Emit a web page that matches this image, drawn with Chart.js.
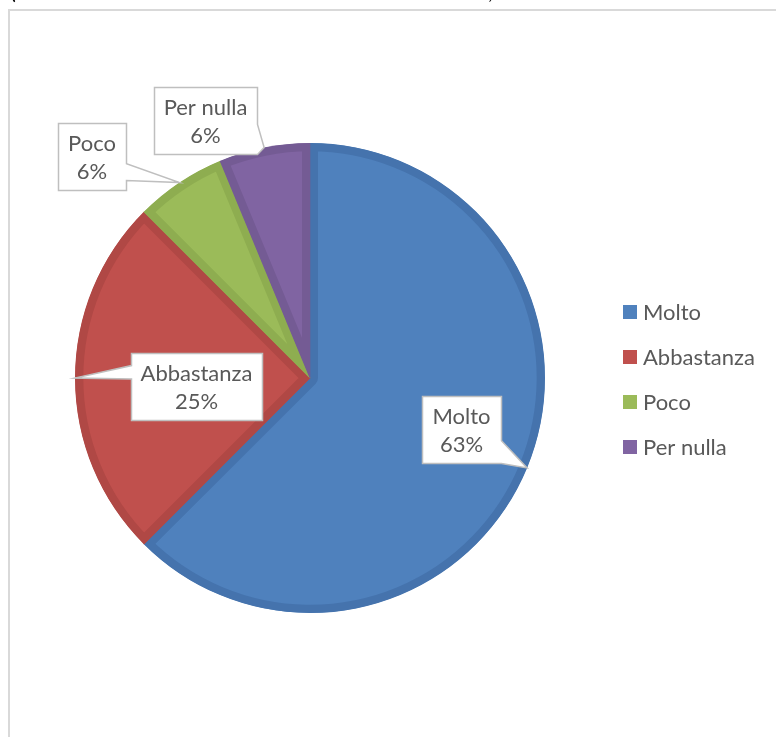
<!DOCTYPE html>
<html>
<head>
<meta charset="utf-8">
<script src="https://cdn.jsdelivr.net/npm/chart.js@4.4.1/dist/chart.umd.min.js"></script>
<style>
  html, body { margin: 0; padding: 0; background: #ffffff; overflow: hidden; }
  #wrap { position: relative; width: 776px; height: 737px; }
</style>
</head>
<body>
<div id="wrap"><canvas id="c" width="776" height="737"></canvas></div>
<script>
// Survey answers and how many respondents chose each one
const categories = ['Molto', 'Abbastanza', 'Poco', 'Per nulla'];
const counts = [10, 4, 1, 1];

// Slice fills and their darker rims
const fillColors = ['#4f81bd', '#c0504d', '#9bbb59', '#8064a2'];
const rimColors  = ['#4573ad', '#b04845', '#8ead50', '#745b94'];

const FONT = 'Lato, "Open Sans", sans-serif';
const FONT_SIZE = 22;
const TEXT_COLOR = '#595959';

const total = counts.reduce((a, b) => a + b, 0);
const percentText = counts.map(v => Math.round(v / total * 100) + '%');

// Callout placement: box centre offset from the pie centre, and which side of
// the box the pointer leaves from (as a fraction range along that side).
const calloutLayout = [
  { dx: 151.5, dy: 51.5,    side: 'right', f0: 0.66, f1: 1.0 },
  { dx: -113.5, dy: 8.5,    side: 'left',  f0: 0.18, f1: 0.38 },
  { dx: -218, dy: -221.5,   side: 'right', f0: 0.60, f1: 0.85 },
  { dx: -104.5, dy: -257.5, side: 'right', f0: 0.55, f1: 1.0 }
];

function drawCallout(ctx, l, t, r, b, tip, side, f0, f1) {
  ctx.beginPath();
  ctx.moveTo(l, t);
  ctx.lineTo(r, t);
  if (side === 'right') {
    ctx.lineTo(r, t + (b - t) * f0);
    ctx.lineTo(tip.x, tip.y);
    ctx.lineTo(r, t + (b - t) * f1);
  }
  ctx.lineTo(r, b);
  ctx.lineTo(l, b);
  if (side === 'left') {
    ctx.lineTo(l, t + (b - t) * f1);
    ctx.lineTo(tip.x, tip.y);
    ctx.lineTo(l, t + (b - t) * f0);
  }
  ctx.closePath();
  ctx.fillStyle = '#ffffff';
  ctx.fill();
  ctx.lineWidth = 1.5;
  ctx.strokeStyle = '#bfbfbf';
  ctx.lineJoin = 'miter';
  ctx.stroke();
}

const decorations = {
  id: 'decorations',
  beforeDraw(chart) {
    const ctx = chart.ctx;
    ctx.save();
    // outer frame (only top and left edges fall inside the page)
    ctx.strokeStyle = '#d9d9d9';
    ctx.lineWidth = 2;
    ctx.beginPath();
    ctx.moveTo(9, 737);
    ctx.lineTo(9, 10);
    ctx.lineTo(776, 10);
    ctx.stroke();
    // the line of text above the frame, cut off by the page edge
    ctx.fillStyle = '#000000';
    ctx.font = FONT_SIZE + 'px ' + FONT;
    ctx.textBaseline = 'alphabetic';
    ctx.fillText('(', 10, -1);
    ctx.fillText(',', 488, -1);
    ctx.restore();
  },
  afterDatasetsDraw(chart) {
    const ctx = chart.ctx;
    const arcs = chart.getDatasetMeta(0).data;
    ctx.save();
    ctx.font = FONT_SIZE + 'px ' + FONT;
    ctx.textAlign = 'center';
    ctx.textBaseline = 'alphabetic';

    arcs.forEach((arc, i) => {
      const mid = (arc.startAngle + arc.endAngle) / 2;
      const tip = {
        x: arc.x + Math.cos(mid) * arc.outerRadius,
        y: arc.y + Math.sin(mid) * arc.outerRadius
      };
      const lay = calloutLayout[i];
      const w = Math.max(ctx.measureText(categories[i]).width, ctx.measureText(percentText[i]).width) + 20;
      const h = 67;
      const cx = arc.x + lay.dx, cy = arc.y + lay.dy;
      const l = Math.round(cx - w / 2) + 0.5, r = Math.round(cx + w / 2) + 0.5;
      const t = Math.round(cy - h / 2) + 0.5, b = Math.round(cy + h / 2) + 0.5;
      drawCallout(ctx, l, t, r, b, tip, lay.side, lay.f0, lay.f1);
      ctx.fillStyle = TEXT_COLOR;
      ctx.fillText(categories[i], cx, t + 27);
      ctx.fillText(percentText[i], cx, t + 55);
    });

    // legend
    ctx.textAlign = 'left';
    ctx.textBaseline = 'middle';
    categories.forEach((name, i) => {
      const y = 312 + i * 45;
      ctx.fillStyle = fillColors[i];
      ctx.fillRect(623, y - 7, 14, 14);
      ctx.fillStyle = TEXT_COLOR;
      ctx.fillText(name, 643, y + 1);
    });
    ctx.restore();
  }
};

function build() {
  new Chart(document.getElementById('c'), {
    type: 'pie',
    data: {
      labels: categories,
      datasets: [{
        data: counts,
        backgroundColor: fillColors,
        borderColor: rimColors,
        borderWidth: 8,
        borderAlign: 'inner'
      }]
    },
    options: {
      responsive: false,
      animation: false,
      events: [],
      layout: { padding: { left: 75, top: 143, right: 231, bottom: 124 } },
      plugins: {
        legend: { display: false },
        tooltip: { enabled: false },
        title: { display: false }
      }
    },
    plugins: [decorations]
  });
}

if (document.fonts && document.fonts.load) {
  document.fonts.load(FONT_SIZE + 'px Lato').then(build, build);
} else {
  build();
}
</script>
</body>
</html>
